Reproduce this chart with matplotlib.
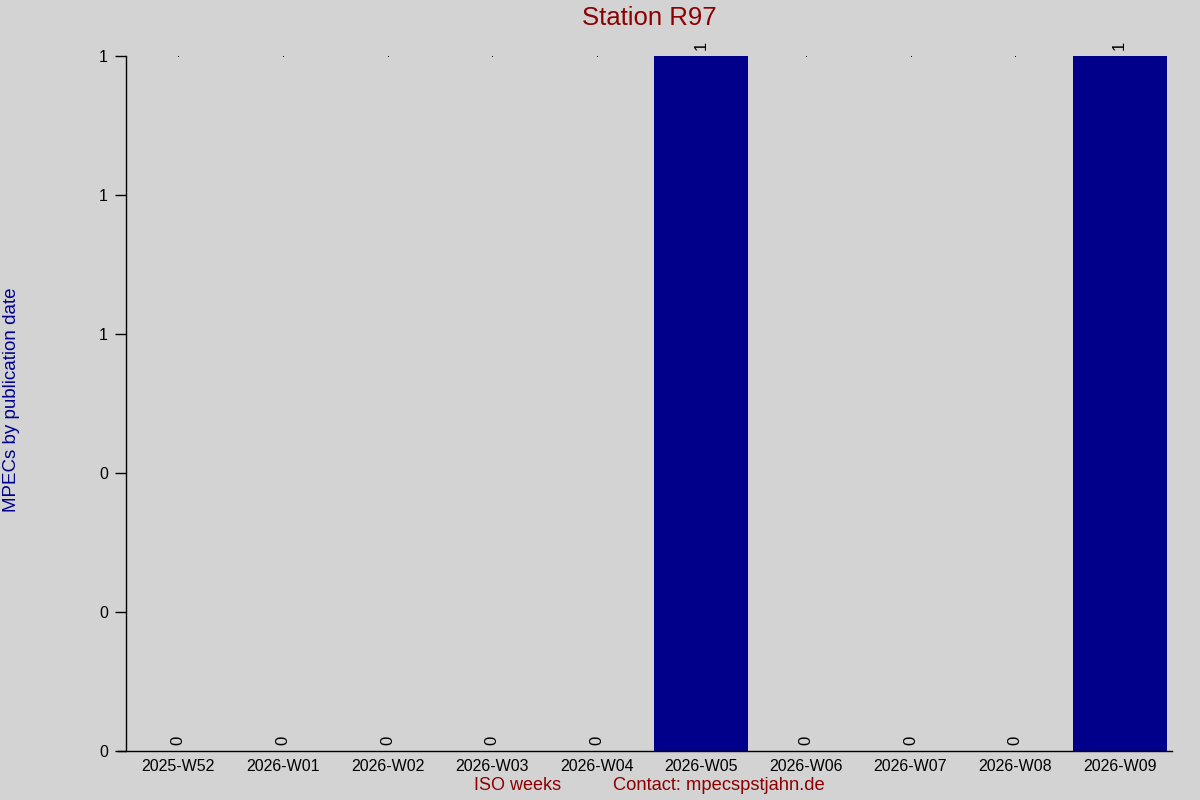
import numpy as np
import matplotlib
matplotlib.use("Agg")
import matplotlib.pyplot as plt
from matplotlib.ticker import FormatStrFormatter

# --- data ---
weeks = ["2025-W52", "2026-W01", "2026-W02", "2026-W03", "2026-W04",
         "2026-W05", "2026-W06", "2026-W07", "2026-W08", "2026-W09"]
counts = [0, 0, 0, 0, 0, 1, 0, 0, 0, 1]
y_ticks = [0.0, 0.2, 0.4, 0.6, 0.8, 1.0]

BG = "#d3d3d3"
BAR = "#00008b"
RED = "#8b0000"

plt.rcParams["font.family"] = ["Liberation Sans", "DejaVu Sans"]

fig = plt.figure(figsize=(12, 8), dpi=100, facecolor=BG)
ax = fig.add_axes([126 / 1200, 49 / 800, 1046 / 1200, 695 / 800], facecolor=BG)

x = np.arange(len(weeks))
ax.bar(x, counts, width=0.9, color=BAR, zorder=2)

ymax = max(counts)
ax.set_xlim(-0.5, len(weeks) - 0.5)
ax.set_ylim(0, ymax)

# tiny dots at the top for the empty weeks
zx = [i for i, c in enumerate(counts) if c == 0]
ax.plot(zx, [ymax] * len(zx), linestyle="none", marker="s", markersize=0.7,
        markeredgewidth=0, color="black", clip_on=False, zorder=3)

# value labels
for i, c in enumerate(counts):
    ax.annotate(str(c), (i, c), xytext=(0, 4), textcoords="offset points",
                ha="center", va="bottom", rotation=90, fontsize=12,
                annotation_clip=False)

ax.set_xticks(x)
ax.set_xticklabels(weeks, fontsize=11.5)
ax.tick_params(axis="x", length=0, pad=6)
ax.set_yticks(y_ticks)
ax.yaxis.set_major_formatter(FormatStrFormatter("%.0f"))
ax.tick_params(axis="y", direction="out", length=8, width=1, labelsize=11.5, pad=5)

for side in ["top", "right"]:
    ax.spines[side].set_visible(False)
ax.spines["left"].set_linewidth(1)
ax.spines["bottom"].set_linewidth(1)
ax.spines["bottom"].set_bounds(-0.5 - 8 / 104.6, len(weeks) - 0.5)

ax.set_title("Station R97", color=RED, fontsize=18.5, pad=22)
fig.text(3 / 1200, 0.5, "MPECs by publication date", rotation=90,
         color=BAR, fontsize=13.5, ha="left", va="center")
fig.text(518 / 1200, 14 / 800, "ISO weeks", color=RED, fontsize=13,
         ha="center", va="center")
fig.text(719 / 1200, 14 / 800, "Contact: mpecspstjahn.de", color=RED,
         fontsize=13.2, ha="center", va="center")

fig.savefig("out.png", dpi=100, facecolor=BG)
